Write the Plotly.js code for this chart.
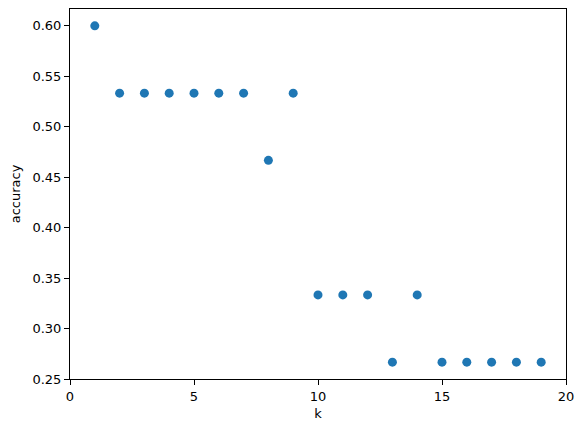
<!DOCTYPE html>
<html>
<head>
<meta charset="utf-8">
<script src="https://cdn.plot.ly/plotly-3.0.1.min.js"></script>
<style>
  html, body { margin: 0; padding: 0; background: #fff; }
  #plot { width: 585px; height: 432px; }
</style>
</head>
<body>
<div id="plot"></div>
<script>
// k values and accuracy
var kValues = [1, 2, 3, 4, 5, 6, 7, 8, 9, 10, 11, 12, 13, 14, 15, 16, 17, 18, 19];
var accuracy = [0.6, 0.5333, 0.5333, 0.5333, 0.5333, 0.5333, 0.5333, 0.4667, 0.5333,
                0.3333, 0.3333, 0.3333, 0.2667, 0.3333, 0.2667, 0.2667, 0.2667, 0.2667, 0.2667];
var xTicks = [0, 5, 10, 15, 20];
var yTicks = [0.25, 0.30, 0.35, 0.40, 0.45, 0.50, 0.55, 0.60];

var trace = {
  x: kValues,
  y: accuracy,
  type: 'scatter',
  mode: 'markers',
  marker: { color: '#1f77b4', size: 9 },
  hoverinfo: 'none'
};

var axisCommon = {
  showline: true,
  linecolor: '#000',
  linewidth: 1,
  mirror: true,
  showgrid: false,
  zeroline: false,
  ticks: 'outside',
  ticklen: 5,
  tickwidth: 1,
  tickcolor: '#000',
  tickfont: { family: 'DejaVu Sans', size: 13, color: '#000' }
};

var layout = {
  width: 585,
  height: 432,
  margin: { l: 70, r: 19, t: 9, b: 53 },
  paper_bgcolor: '#fff',
  plot_bgcolor: '#fff',
  showlegend: false,
  xaxis: Object.assign({}, axisCommon, {
    range: [0, 20],
    tickvals: xTicks,
    ticktext: xTicks.map(String),
    title: { text: 'k', font: { family: 'DejaVu Sans', size: 13, color: '#000' }, standoff: 6 }
  }),
  yaxis: Object.assign({}, axisCommon, {
    range: [0.25, 0.61667],
    tickvals: yTicks,
    ticktext: yTicks.map(function (v) { return v.toFixed(2); }),
    title: { text: 'accuracy', font: { family: 'DejaVu Sans', size: 13, color: '#000' }, standoff: 8 }
  })
};

Plotly.newPlot('plot', [trace], layout, { displayModeBar: false, staticPlot: true });
</script>
</body>
</html>
